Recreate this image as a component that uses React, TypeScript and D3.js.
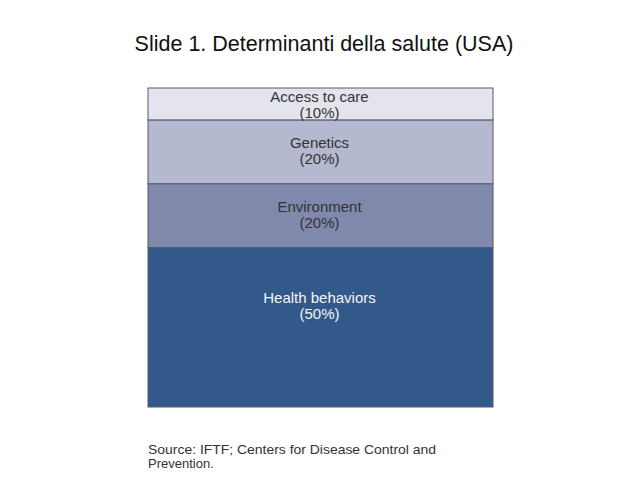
import React from "react";
import * as d3 from "d3";

const categories = ["Health behaviors", "Environment", "Genetics", "Access to care"];
const values = [50, 20, 20, 10];
const colors = ["#33598a", "#8088ab", "#b5b9d0", "#e4e4ec"];
const textColors = ["#f4f4f8", "#333333", "#333333", "#333333"];

const title = "Slide 1. Determinanti della salute (USA)";
const sourceLines = ["Source: IFTF; Centers for Disease Control and", "Prevention."];

// label baseline offset from segment middle (layout only)
const labelShift = [-24, -4, -4, -2];

export default function App() {
  const W = 640, H = 480;
  const x0 = 148, x1 = 493;
  const y = d3.scaleLinear().domain([0, 100]).range([407, 88]);
  const cum = d3.cumsum(values);
  const segs = values.map((v, i) => ({
    name: categories[i],
    v,
    lo: cum[i] - v,
    hi: cum[i],
    color: colors[i],
    tc: textColors[i],
    shift: labelShift[i],
  }));
  const font = "Arial, 'Liberation Sans', Helvetica, sans-serif";
  const cx = (x0 + x1) / 2 - 1;
  return (
    <svg width={W} height={H} style={{ position: "absolute", left: 0, top: 0, background: "#fff" }} fontFamily={font}>
      <rect x={0} y={0} width={W} height={H} fill="#fff" />
      <text x={324} y={51} textAnchor="middle" fontSize={21.5} fill="#111">{title}</text>
      {segs.map((s) => {
        const top = y(s.hi), bot = y(s.lo);
        return (
          <rect key={s.name} x={x0} y={top} width={x1 - x0} height={bot - top} fill={s.color} stroke="#55596a" strokeWidth={1} />
        );
      })}
      {segs.map((s) => {
        const top = y(s.hi), bot = y(s.lo);
        const mid = (top + bot) / 2;
        return (
          <g key={s.name + "t"} fill={s.tc} fontSize={15} textAnchor="middle">
            <text x={cx} y={mid + s.shift}>{s.name}</text>
            <text x={cx} y={mid + s.shift + 16}>{`(${s.v}%)`}</text>
          </g>
        );
      })}
      {sourceLines.map((l, i) => (
        <text key={i} x={148} y={454 + i * 13.5} fontSize={13} fill="#333"
          textLength={i === 0 ? 288 : undefined} lengthAdjust="spacingAndGlyphs">{l}</text>
      ))}
    </svg>
  );
}
